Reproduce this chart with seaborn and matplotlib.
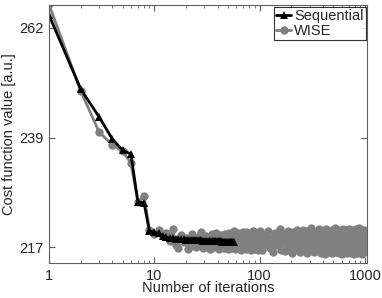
import numpy as np
import pandas as pd
import matplotlib
matplotlib.use('Agg')
import matplotlib.pyplot as plt
import seaborn as sns

# Sequential: iterations 1..57
seq_iter = list(range(1, 58))
seq_cost = [264.6, 249.4, 243.6, 239.1, 236.8, 236.0, 226.2, 226.0, 220.2, 220.0,
            219.7, 219.2, 218.9, 218.8, 218.7, 218.6, 218.6, 218.5, 218.5, 218.4,
            218.4, 218.4, 218.4, 218.3, 218.3, 218.3, 218.3, 218.3, 218.2, 218.2,
            218.2, 218.2, 218.2, 218.2, 218.2, 218.1, 218.1, 218.1, 218.1, 218.1,
            218.1, 218.1, 218.1, 218.0, 218.0, 218.0, 218.0, 218.0, 218.0, 218.0,
            218.0, 218.0, 218.0, 218.0, 218.0, 218.0, 218.0]

# WISE: iterations 1..100, then every 5th up to 1000
wise_iter = list(range(1, 101)) + list(range(105, 1001, 5))
wise_cost = [
    266.8, 249.0, 240.5, 237.9, 236.6, 234.2, 226.2, 227.4, 220.5, 219.6,
    220.4, 219.1, 219.8, 218.2, 220.6, 217.4, 216.8, 219.3, 217.9, 218.8,
    216.6, 218.4, 219.6, 217.2, 216.9, 218.9, 217.6, 219.9, 216.7, 218.1,
    219.2, 217.0, 218.6, 216.5, 219.5, 217.8, 216.9, 218.7, 219.8, 217.3,
    216.6, 218.3, 219.4, 217.1, 218.9, 216.8, 219.6, 217.7, 218.2, 216.5,
    219.7, 217.4, 218.8, 216.7, 219.1, 217.9, 220.1, 216.6, 218.5, 217.2,
    219.5, 216.9, 218.0, 219.8, 217.5, 216.4, 219.2, 218.3, 217.0, 219.9,
    216.7, 218.6, 217.3, 220.0, 216.5, 218.9, 217.8, 219.4, 216.8, 218.2,
    219.7, 217.1, 216.4, 219.0, 218.4, 217.6, 220.2, 216.6, 218.7, 217.4,
    219.3, 216.9, 218.1, 219.8, 217.0, 216.3, 219.5, 218.6, 217.2, 220.1,
    216.2, 219.4, 217.6, 220.3, 216.8, 218.7, 215.9, 219.8, 217.3, 218.9,
    220.6, 216.4, 218.2, 219.5, 216.0, 217.8, 220.1, 216.9, 219.2, 217.1,
    215.7, 219.9, 218.4, 216.6, 220.4, 217.5, 218.8, 215.8, 219.6, 216.9,
    218.1, 220.5, 216.3, 219.0, 217.7, 215.6, 220.2, 218.5, 216.7, 219.7,
    217.2, 220.9, 216.1, 218.6, 219.3, 215.9, 217.9, 220.0, 216.5, 218.3,
    219.8, 216.0, 217.4, 220.6, 218.9, 215.7, 219.1, 217.0, 216.4, 220.3,
    218.0, 216.8, 219.5, 215.5, 217.6, 220.7, 218.4, 216.2, 219.9, 217.3,
    215.8, 220.1, 218.7, 216.6, 219.4, 217.1, 220.4, 215.6, 218.2, 219.6,
    216.9, 217.8, 220.8, 216.3, 219.0, 215.9, 218.5, 220.2, 217.4, 216.0,
    219.7, 218.1, 215.7, 220.5, 217.0, 219.3, 216.5, 218.8, 220.0, 215.5,
    217.7, 219.9, 216.2, 218.4, 220.6, 216.8, 219.2, 215.8, 217.5, 220.3,
    218.6, 216.1, 219.6, 217.2, 215.6, 220.4, 218.0, 216.7, 219.8, 217.9,
    215.9, 220.7, 217.3, 219.1, 216.4, 218.3, 220.1, 215.7, 218.9, 216.6,
    219.5, 217.0, 220.5, 216.0, 218.7, 215.5, 219.4, 217.6, 220.2, 216.3,
    218.2, 219.7, 215.8, 220.6, 217.1, 216.9, 219.0, 218.5, 215.6, 220.3,
    217.4, 216.2, 219.9, 218.1, 220.8, 215.9, 217.8, 219.3, 216.5, 220.0,
    218.8, 215.7, 219.6, 217.2, 216.1, 220.4, 218.4, 215.5, 219.2, 217.7,
    220.1, 216.6, 218.0, 219.8, 215.8, 217.5, 220.5, 216.4, 219.1, 218.3,
]

ytick_vals = [216.9, 239.4, 261.9]
ytick_labels = ['217', '239', '262']
xtick_vals = [1, 10, 100, 1000]
xtick_labels = ['1', '10', '100', '1000']

sns.set_style('ticks')
plt.rcParams['font.family'] = ['Liberation Sans', 'DejaVu Sans']

fig = plt.figure(figsize=(3.82, 2.98), dpi=100)
ax = fig.add_axes([0.128, 0.117, 0.833, 0.866])

sns.lineplot(x=wise_iter, y=wise_cost, ax=ax, color='#808080', marker='o',
             markersize=6, markeredgewidth=0, linewidth=2, label='WISE',
             estimator=None, sort=False)
sns.lineplot(x=seq_iter, y=seq_cost, ax=ax, color='black', marker='^',
             markersize=6, markeredgewidth=0, linewidth=2, label='Sequential',
             estimator=None, sort=False)

ax.set_xscale('log')
ax.set_xlim(1, 1050)
ax.set_ylim(213.6, 266.6)
ax.set_xticks(xtick_vals)
ax.set_xticklabels(xtick_labels)
ax.set_yticks(ytick_vals)
ax.set_yticklabels(ytick_labels)

for s in ax.spines.values():
    s.set_visible(True)
    s.set_color('#606060')
    s.set_linewidth(0.8)
ax.tick_params(which='both', direction='in', top=True, right=True,
               color='#606060', labelsize=10.5, pad=4)
ax.tick_params(which='major', length=4)
ax.tick_params(which='minor', length=2)

ax.set_xlabel('Number of iterations', fontsize=10.5, labelpad=-1)
ax.set_ylabel('Cost function value [a.u.]', fontsize=10.5, labelpad=2)

handles, labels = ax.get_legend_handles_labels()
leg = ax.legend(handles[::-1], labels[::-1], loc='upper right', fontsize=10.5,
                frameon=True, fancybox=False, handlelength=1.0,
                handletextpad=0.2, borderpad=0.15, borderaxespad=0.1,
                labelspacing=0.1, edgecolor='black')
leg.get_frame().set_linewidth(0.8)

fig.savefig('out.png', dpi=100)
